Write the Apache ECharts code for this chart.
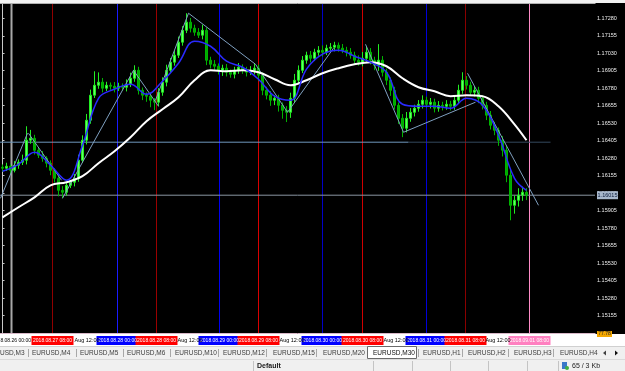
<!DOCTYPE html>
<html><head><meta charset="utf-8">
<script src="https://cdn.jsdelivr.net/npm/echarts/dist/echarts.min.js"></script>
<style>html,body{margin:0;padding:0;background:#000;}#c{width:625px;height:371px;}</style>
</head><body><div id="c"></div>
<script>
// ---- data (EURUSD M30) ----
const firstOpen = 1.16215;
const closes = [
1.16208,1.16222,1.16193,1.16229,1.16251,1.16265,1.16408,1.16422,1.16336,1.16301,1.16279,1.16244,
1.16193,1.16136,1.16050,1.16036,1.16086,1.16108,1.16136,1.16265,1.16408,1.16551,1.16730,1.16801,
1.16823,1.16780,1.16801,1.16794,1.16780,1.16794,1.16787,1.16808,1.16851,1.16908,1.16765,1.16730,
1.16723,1.16694,1.16680,1.16751,1.16823,1.16908,1.16966,1.17016,1.17109,1.17194,1.17252,1.17209,
1.17180,1.17159,1.17194,1.16980,1.16951,1.16937,1.16908,1.16923,1.16894,1.16880,1.16908,1.16930,
1.16908,1.16894,1.16908,1.16923,1.16873,1.16765,1.16730,1.16694,1.16708,1.16658,1.16622,1.16608,
1.16708,1.16837,1.16908,1.16980,1.17016,1.16994,1.17037,1.17051,1.17037,1.17066,1.17073,1.17087,
1.17066,1.17051,1.17037,1.17016,1.16980,1.16966,1.16994,1.17037,1.16980,1.16944,1.16980,1.16894,
1.16837,1.16765,1.16658,1.16565,1.16494,1.16565,1.16608,1.16637,1.16665,1.16694,1.16665,1.16680,
1.16637,1.16658,1.16651,1.16665,1.16651,1.16694,1.16765,1.16837,1.16801,1.16751,1.16765,1.16708,
1.16658,1.16587,1.16515,1.16479,1.16408,1.16337,1.16158,1.15943,1.15979,1.16015,1.16036,1.16015];
// wick lengths in points (0.00001)
const wickUp = [
20,25,15,30,20,40,100,60,25,20,30,15, 20,15,25,30,20,15,30,40,35,45,40,100,
70,30,25,20,30,25,20,35,40,36,25,20, 20,25,15,30,35,40,30,35,40,30,64,30,
25,30,40,20,25,30,20,25,30,20,25,30, 20,25,30,35,25,20,25,30,20,25,20,30,
40,45,35,30,25,30,25,30,35,25,30,25, 20,30,25,30,25,35,45,40,30,25,115,30,
25,20,25,20,30,45,30,25,30,35,25,30, 25,30,25,30,25,35,40,57,30,25,30,25,
20,25,30,25,20,30,35,40,35,50,40,30];
const wickDn = [
25,20,30,15,25,20,30,25,30,20,25,30, 35,30,43,43,25,20,30,25,20,30,25,20,
25,30,20,25,30,20,25,30,20,25,30,35, 40,50,57,30,25,30,20,25,20,25,20,30,
25,20,30,35,30,25,30,40,30,25,30,25, 25,30,20,30,40,35,30,40,35,45,60,70,
40,30,25,20,25,30,20,25,30,20,25,30, 25,20,30,25,30,25,30,25,30,35,40,30,
35,40,30,40,64,30,25,30,25,30,25,30, 30,25,30,25,30,25,20,25,30,25,30,35,
30,35,30,35,40,45,50,107,60,45,40,35];
const maIdx = [0,4,8,12,16,20,24,28,32,36,40,44,48,52,56,60,64,68,72,76,80,84,88,92,96,100,104,108,112,116,120,124,128,131];
const maFast = [1.16186,1.16236,1.16322,1.16229,1.16122,1.16372,1.16708,1.16773,1.16808,1.16737,1.16830,1.16959,1.17116,1.17080,1.16973,1.16930,1.16844,1.16723,1.16694,1.16916,1.17023,1.17051,1.17009,1.16966,1.16894,1.16665,1.16651,1.16651,1.16637,1.16708,1.16658,1.16444,1.16136,1.16050];
const maSlow = [1.15857,1.15929,1.16000,1.16086,1.16108,1.16151,1.16244,1.16329,1.16429,1.16544,1.16630,1.16715,1.16837,1.16908,1.16901,1.16908,1.16894,1.16844,1.16801,1.16837,1.16887,1.16923,1.16951,1.16966,1.16937,1.16851,1.16787,1.16758,1.16723,1.16730,1.16723,1.16651,1.16522,1.16408];
const trendLines = [
[-0.5,1.15993,6.25,1.16458],[6.5,1.16458,14.75,1.16122],[15,1.15993,32.75,1.16908],
[32.75,1.16908,39,1.16651],[38.25,1.16694,46.5,1.17316],[46.5,1.17316,63.25,1.16951],
[63.25,1.16951,71.25,1.16608],[71.25,1.16608,82.75,1.17066],[90.75,1.17094,100.25,1.16465],
[100.25,1.16465,118.25,1.16680],[116.25,1.16887,134,1.15943]];
const sigIdx = [6.75,32.5,50.75,85,120.25,17.25,39,73,101];
const sigPrice = [1.16565,1.16980,1.17280,1.17152,1.16858,1.15943,1.16494,1.16601,1.16315];
const sigText = ['S','S','S','S','S','B','B','B','B'];
const vIdx = [2.25,12.5,28.75,38.5,54.25,64,80,90,106,115.75,131.75];
const vColor = ['#a8a8a8','#900000','#1a1aff','#9a0000','#0000f0','#d80000','#0000c8','#d00000','#0000d8','#8a0000','#ff8cc8'];
const vLabel = ['2018.08.26 00:00','2018.08.27 08:00','2018.08.28 00:00','2018.08.28 08:00','2018.08.29 00:00','2018.08.29 08:00','2018.08.30 00:00','2018.08.30 08:00','2018.08.31 00:00','2018.08.31 08:00','2018.09.01 08:00'];
const vLabelBg = ['#ffffff','#ff0000','#0000ff','#ff0000','#0000ff','#ff0000','#0000ff','#ff0000','#0000ff','#ff0000','#ff80c0'];
const midIdx = [17.75,43.5,69,95,120.5];
const midLabel = 'Aug 12:00';
const currentPrice = 1.16015;
const levelLine = 1.16394;
const yMin = 1.15030, yMax = 1.17382, yStep = 0.00125;
const tabs = ['USD,M3','EURUSD,M4','EURUSD,M5','EURUSD,M6','EURUSD,M10','EURUSD,M12','EURUSD,M15','EURUSD,M20','EURUSD,M30','EURUSD,H1','EURUSD,H2','EURUSD,H3','EURUSD,H4'];
const tabX = [0,32,80,127,175,223,273,323,373,423,468,514,560];
const activeTab = 8;

// ---- chart ----
const chart = echarts.init(document.getElementById('c'));
const ohlc = closes.map((c,i)=>{
  const o = i===0 ? firstOpen : closes[i-1];
  return [i, o, c, Math.min(o,c)-wickDn[i]*1e-5, Math.max(o,c)+wickUp[i]*1e-5];
});
const FONT = 'Liberation Sans';
const segSeries = (pts, color, width, z) => ({type:'line',data:pts,z:z,silent:true,showSymbol:false,
  symbol:'none',animation:false,lineStyle:{color:color,width:width},emphasis:{disabled:true}});
const vSeries = vIdx.map((x,i)=>segSeries([[x,yMin],[x,yMax]], vColor[i], i===0?2:1, 1));
const hSeries = [
  segSeries([[-0.625,currentPrice],[148.125,currentPrice]], '#8a96a2', 1, 1),
  segSeries([[-0.625,levelLine],[101.5,levelLine]], '#6f97bd', 1, 1),
  segSeries([[101.5,levelLine],[137,levelLine]], '#34495e', 1, 1)
];
const tSeries = trendLines.map(t=>segSeries([[t[0],t[1]],[t[2],t[3]]], '#7fa0c0', 1, 3));
const option = {
  backgroundColor:'#000000',
  animation:false,
  grid:{left:0,right:30,top:4,bottom:38},
  xAxis:{type:'value',min:-0.625,max:148.125,show:false},
  yAxis:{type:'value',position:'right',min:yMin,max:yMax,interval:yStep,
    axisLine:{show:true,lineStyle:{color:'#c8c8c8',width:1}},
    axisTick:{show:true,length:2,lineStyle:{color:'#c8c8c8'}},
    axisLabel:{color:'#ececec',fontSize:5.5,margin:2,fontFamily:FONT,
      formatter:v=>v.toFixed(5),showMinLabel:false,showMaxLabel:false},
    splitLine:{show:false}},
  series:[
    ...vSeries, ...hSeries,
    {type:'candlestick',data:ohlc,encode:{x:0,y:[1,2,3,4]},z:2,barWidth:3,
      itemStyle:{color:'#66ff66',color0:'#00a800',borderColor:'#22ee22',borderColor0:'#00b400',borderWidth:1}},
    ...tSeries,
    {type:'line',data:maIdx.map((x,i)=>[x,maSlow[i]]),z:4,smooth:0.4,showSymbol:false,
      lineStyle:{color:'#ffffff',width:2}},
    {type:'line',data:maIdx.map((x,i)=>[x,maFast[i]]),z:5,smooth:0.4,showSymbol:false,
      lineStyle:{color:'#2a2aff',width:1.5}},
    {type:'scatter',z:6,symbolSize:1,itemStyle:{opacity:0},
      data:sigIdx.map((x,i)=>({value:[x,sigPrice[i],sigText[i]],
        label:{show:true,position:'inside',formatter:sigText[i],fontSize:8.5,fontFamily:FONT,
          color:sigText[i]==='S'?'#ff2a2a':'#2a4dff'}}))}
  ]
};
chart.setOption(option);

// ---- window chrome + time scale ----
const px = v=>chart.convertToPixel({xAxisIndex:0},v);
const py = v=>chart.convertToPixel({yAxisIndex:0},v);
const g = [];
g.push({type:'rect',shape:{x:0,y:0,width:625,height:3},style:{fill:'#f2f2f2'},z:50});
g.push({type:'line',shape:{x1:0,y1:3.5,x2:595.5,y2:3.5},style:{stroke:'#b0b0b0',lineWidth:1},z:51});
g.push({type:'rect',shape:{x:0,y:334,width:625,height:37},style:{fill:'#ffffff'},z:50});
g.push({type:'line',shape:{x1:0,y1:333.5,x2:595.5,y2:333.5},style:{stroke:'#d8b8c8',lineWidth:1},z:51});
vIdx.forEach((x,i)=>{
  const cx = px(x);
  g.push({type:'rect',shape:{x:cx-21,y:336,width:42,height:9},style:{fill:vLabelBg[i]},z:52});
  g.push({type:'text',x:cx,y:340.5,style:{text:vLabel[i],fill:i===0?'#000':'#ffffff',fontSize:5,fontFamily:FONT,align:'center',verticalAlign:'middle'},z:53});
});
midIdx.forEach(x=>{
  g.push({type:'text',x:px(x)+1,y:340.5,style:{text:midLabel,fill:'#000',fontSize:5.5,fontFamily:FONT,align:'left',verticalAlign:'middle'},z:53});
});
// current price box
const yc = py(currentPrice);
g.push({type:'rect',shape:{x:597,y:yc-4,width:21,height:8},style:{fill:'#a8b8cc'},z:60});
g.push({type:'text',x:607.5,y:yc,style:{text:currentPrice.toFixed(5),fill:'#0a1a3a',fontSize:5.5,fontFamily:FONT,align:'center',verticalAlign:'middle'},z:61});
g.push({type:'rect',shape:{x:597,y:331,width:15,height:6},style:{fill:'#f5a800'},z:60});
g.push({type:'text',x:604.5,y:334,style:{text:'77.78',fill:'#202020',fontSize:5,fontFamily:FONT,align:'center',verticalAlign:'middle'},z:61});
// tabs row
g.push({type:'rect',shape:{x:0,y:346,width:625,height:13},style:{fill:'#f0f0f0'},z:50});
g.push({type:'line',shape:{x1:0,y1:346.5,x2:625,y2:346.5},style:{stroke:'#d0d0d0',lineWidth:1},z:51});
[28,76,123,170,218,266,316,418,462,508,553].forEach(x=>{
  g.push({type:'line',shape:{x1:x+0.5,y1:349,x2:x+0.5,y2:357},style:{stroke:'#a8a8a8',lineWidth:1},z:52});
});
g.push({type:'rect',shape:{x:367.5,y:346.5,width:49,height:12},style:{fill:'#ffffff',stroke:'#6a6a6a',lineWidth:1},z:52});
tabs.forEach((t,i)=>{
  g.push({type:'text',x:tabX[i],y:353,style:{text:t,fill:i===activeTab?'#101010':'#3c3c3c',fontSize:6.5,fontFamily:FONT,align:'left',verticalAlign:'middle'},z:53});
});
g.push({type:'polygon',shape:{points:[[603,353],[606,350.5],[606,355.5]]},style:{fill:'#404040'},z:53});
g.push({type:'polygon',shape:{points:[[618,353],[615,350.5],[615,355.5]]},style:{fill:'#101010'},z:53});
// status bar
g.push({type:'rect',shape:{x:0,y:359,width:625,height:12},style:{fill:'#f0f0f0'},z:50});
g.push({type:'line',shape:{x1:0,y1:359.5,x2:625,y2:359.5},style:{stroke:'#dadada',lineWidth:1},z:51});
[253,373,412,450,488,527,558].forEach(x=>{
  g.push({type:'line',shape:{x1:x+0.5,y1:361,x2:x+0.5,y2:371},style:{stroke:'#c4c4c4',lineWidth:1},z:52});
});
g.push({type:'text',x:257,y:366,style:{text:'Default',fill:'#202020',fontSize:7,fontWeight:'bold',fontFamily:FONT,align:'left',verticalAlign:'middle'},z:53});
g.push({type:'rect',shape:{x:562,y:362,width:5,height:7},style:{fill:'#3a78c8'},z:53});
g.push({type:'circle',shape:{cx:567,cy:368,r:2},style:{fill:'#40b040'},z:54});
g.push({type:'text',x:572,y:366,style:{text:'65 / 3 Kb',fill:'#202020',fontSize:7,fontFamily:FONT,align:'left',verticalAlign:'middle'},z:53});
chart.setOption({graphic:{elements:g}});
</script></body></html>
